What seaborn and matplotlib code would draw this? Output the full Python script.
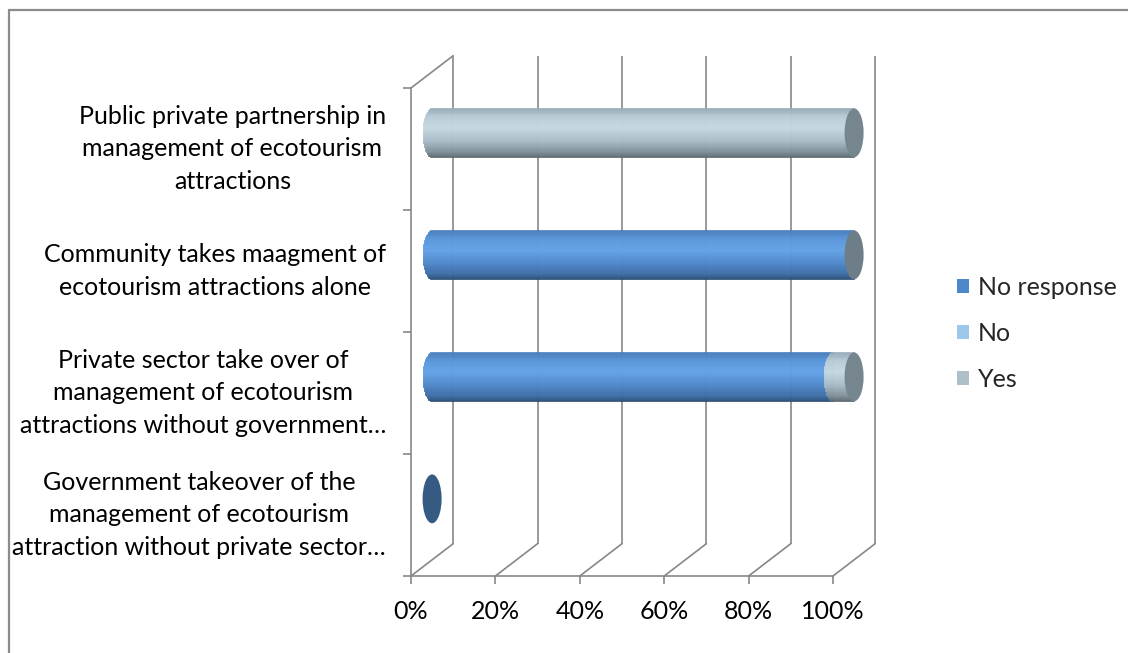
import numpy as np
import pandas as pd
import matplotlib
matplotlib.use("Agg")
import matplotlib.pyplot as plt
import seaborn as sns
from matplotlib.patches import Rectangle, Ellipse, Patch
from matplotlib.collections import PatchCollection
from matplotlib.lines import Line2D
import matplotlib.colors as mcolors

# ---- data -----------------------------------------------------------------
categories = [
    "Public private partnership in\nmanagement of ecotourism\nattractions",
    "Community takes maagment of\necotourism attractions alone",
    "Private sector take over of\nmanagement of ecotourism\nattractions without government…",
    "Government takeover of the\nmanagement of ecotourism\nattraction without private sector…",
]
no_response = [0, 100, 95, 0]
no = [0, 0, 0, 0]
yes = [100, 0, 5, 0]
series_names = ["No response", "No", "Yes"]
x_ticks = [0, 20, 40, 60, 80, 100]
x_tick_labels = ["0%", "20%", "40%", "60%", "80%", "100%"]

# ---- style ----------------------------------------------------------------
legend_colors = ["#4D88CA", "#9DC8EC", "#AEBFC9"]
# vertical shading stops (bottom -> top) for each cylinder series
shade_stops = {
    "No response": ["#2B4A6E", "#3E6DA5", "#4F88CB", "#64A3E7", "#5A96D9", "#4A7FBF"],
    "No": ["#5E7F9C", "#7FA8CC", "#9DC3E6", "#B8D7F2", "#AACCEB", "#93B8DA"],
    "Yes": ["#56636B", "#7F8F98", "#A9BCC7", "#C6D9E3", "#B9CCD7", "#98ADB9"],
}
stop_pos = [0.0, 0.12, 0.35, 0.62, 0.85, 1.0]
cap_colors = {"No response": "#6E7E89", "No": "#7F9AAE", "Yes": "#75868F"}
empty_cap = "#355B83"
grid_col = "#878787"
grid_lw = 1.2
FS = 18

sns.set_theme(style="white")
plt.rcParams["font.family"] = ["Lato", "DejaVu Sans"]

df = pd.DataFrame({"category": categories, "No response": no_response,
                   "No": no, "Yes": yes})
ends = df[series_names].cumsum(axis=1)
plot_df = pd.concat([df[["category"]], ends.add_suffix(" end")], axis=1)

fig = plt.figure(figsize=(11.28, 6.53), dpi=100)
ax = fig.add_axes([411 / 1128, 77 / 653, 422 / 1128, 488 / 653])

# stacked horizontal bars (cumulative ends); their geometry drives the cylinders
bar_sets = []
for s, c in zip(series_names, legend_colors):
    n_before = len(ax.patches)
    sns.barplot(data=plot_df, x=f"{s} end", y="category", order=categories,
                orient="y", width=0.4, color=c, saturation=1, ax=ax)
    bar_sets.append(list(ax.patches[n_before:]))
for p in ax.patches:
    p.set_visible(False)

ax.set_xlim(0, 100)
ax.set_ylim(3.5, -0.5)
ax.set_xlabel("")
ax.set_ylabel("")

# depth of the 3-D box in data units (x: percent, y: category units)
DX = 10.0
DY = 0.265
MX, MY = DX / 2, -DY / 2          # bars sit half way into the box
EW = 4.5                          # ellipse width of cylinder ends


def stop_color(stops, v):
    rgb = np.array([mcolors.to_rgb(c) for c in stops])
    return tuple(np.interp(v, stop_pos, rgb[:, k]) for k in range(3))


def cylinder_body(x0, x1, yc, h, series, z):
    n = 60
    stops = shade_stops[series]
    a = EW / 2
    rects, cols = [], []
    for i in range(n):
        v0, v1 = i / n, (i + 1) / n
        vm = 0.5 * (v0 + v1)
        u = 2 * vm - 1
        chord = a * np.sqrt(max(0.0, 1 - u * u))
        ytop = yc + h / 2 - v1 * h
        rects.append(Rectangle((x0 - chord, ytop), (x1 - x0) + chord, h / n))
        cols.append(stop_color(stops, vm))
    pc = PatchCollection(rects, facecolors=cols, edgecolors=cols,
                         linewidths=0.5, zorder=z, clip_on=False)
    ax.add_collection(pc)


# ---- 3-D frame: back wall, floor and side wall ---------------------------
for x in x_ticks:
    ax.plot([x + DX, x + DX], [3.5 - DY, -0.5 - DY], color=grid_col,
            lw=grid_lw, zorder=1, clip_on=False, solid_capstyle="butt")
    ax.plot([x, x + DX], [3.5, 3.5 - DY], color=grid_col, lw=grid_lw,
            zorder=1, clip_on=False)
ax.plot([0, DX], [-0.5, -0.5 - DY], color=grid_col, lw=grid_lw, zorder=1,
        clip_on=False)

for side in ["top", "right"]:
    ax.spines[side].set_visible(False)
for side in ["left", "bottom"]:
    ax.spines[side].set_color(grid_col)
    ax.spines[side].set_linewidth(grid_lw)
    ax.spines[side].set_zorder(1)

# ---- cylinders ------------------------------------------------------------
n_cat = len(categories)
for i in range(n_cat):
    last = None
    z = 3
    for k, s in enumerate(series_names):
        p = bar_sets[k][i]
        end = p.get_width()
        start = bar_sets[k - 1][i].get_width() if k > 0 else 0.0
        yc = p.get_y() + p.get_height() / 2 + MY
        h = p.get_height()
        if end - start > 0:
            cylinder_body(start + MX, end + MX, yc, h, s, z)
            z += 1
            last = (end + MX, yc, h, s)
    if last is not None:
        xe, yc, h, s = last
        ax.add_patch(Ellipse((xe, yc), EW, h, facecolor=cap_colors[s],
                             edgecolor="none", zorder=z + 1, clip_on=False))
    else:
        p = bar_sets[0][i]
        yc = p.get_y() + p.get_height() / 2 + MY
        ax.add_patch(Ellipse((MX, yc), EW, p.get_height(), facecolor=empty_cap,
                             edgecolor="none", zorder=z + 1, clip_on=False))

# ---- ticks and labels -----------------------------------------------------
ax.set_xticks(x_ticks)
ax.set_xticklabels(x_tick_labels, fontsize=FS, color="black")
ax.tick_params(axis="x", which="major", direction="out", length=5.5,
               width=grid_lw, color=grid_col, pad=12, bottom=True)

ax.set_yticks(range(n_cat))
ax.set_yticklabels(categories, fontsize=FS, color="black", linespacing=1.52)
for lab in ax.get_yticklabels():
    lab.set_multialignment("center")
    lab.set_verticalalignment("center")
ax.tick_params(axis="y", which="major", length=0, pad=18, left=True)
ax.set_yticks(np.arange(-0.5, n_cat, 1.0), minor=True)
ax.tick_params(axis="y", which="minor", direction="out", length=6,
               width=grid_lw, color=grid_col, left=True)

# ---- legend ---------------------------------------------------------------
handles = [Patch(facecolor=c, edgecolor="none") for c in legend_colors]
fig.legend(handles, series_names, loc="upper left",
           bbox_to_anchor=(947 / 1128, 1 - 266 / 653), frameon=False,
           fontsize=FS, handlelength=0.5, handleheight=0.5,
           handletextpad=0.35, labelspacing=0.92, borderaxespad=0)

# ---- outer chart border ---------------------------------------------------
fig.add_artist(Line2D([8.5 / 1128, 8.5 / 1128], [0, 1 - 9.5 / 653],
                      transform=fig.transFigure, color="#8C8C8C", lw=1.6))
fig.add_artist(Line2D([8.5 / 1128, 1], [1 - 9.5 / 653, 1 - 9.5 / 653],
                      transform=fig.transFigure, color="#8C8C8C", lw=1.6))

fig.savefig("out.png", dpi=100, facecolor="white")
